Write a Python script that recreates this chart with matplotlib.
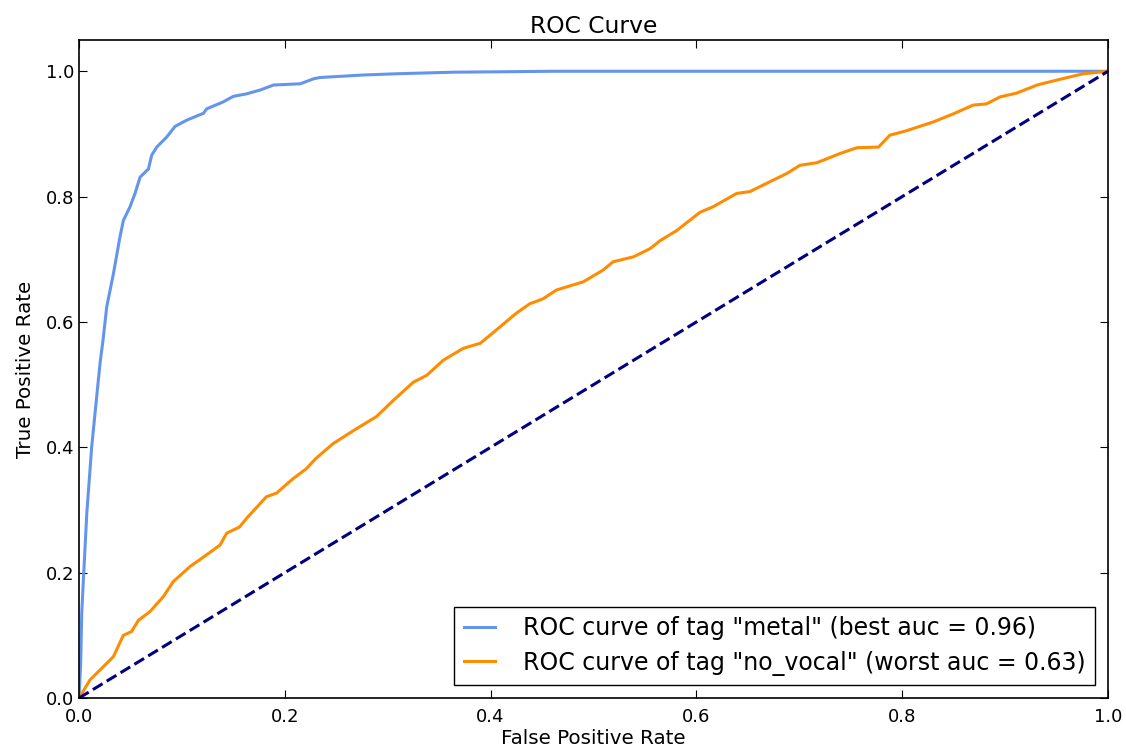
import matplotlib
matplotlib.use('Agg')
import matplotlib.pyplot as plt

# ROC points for tag "metal"
metal_fpr = [0.0, 0.0016, 0.0026, 0.0042, 0.0075, 0.0123, 0.0155, 0.0204, 0.0233,
             0.0269, 0.0334, 0.0398, 0.0431, 0.0496, 0.0544, 0.0593, 0.0674, 0.0706,
             0.0755, 0.0852, 0.0933, 0.1047, 0.121, 0.124, 0.140, 0.150, 0.163,
             0.176, 0.189, 0.215, 0.228, 0.234, 0.276, 0.309, 0.364, 0.464, 1.0]
metal_tpr = [0.0, 0.056, 0.135, 0.188, 0.294, 0.401, 0.454, 0.534, 0.571,
             0.624, 0.677, 0.736, 0.762, 0.784, 0.805, 0.831, 0.844, 0.866,
             0.879, 0.895, 0.912, 0.922, 0.933, 0.940, 0.951, 0.960, 0.964,
             0.970, 0.978, 0.980, 0.988, 0.990, 0.994, 0.996, 0.9985, 1.0, 1.0]

# ROC points for tag "no_vocal"
novocal_fpr = [0.0, 0.0107, 0.0236, 0.0334, 0.043, 0.051, 0.0577, 0.069, 0.082,
               0.0917, 0.108, 0.121, 0.137, 0.1435, 0.156, 0.163, 0.182, 0.192,
               0.208, 0.221, 0.230, 0.247, 0.267, 0.289, 0.3055, 0.325, 0.338,
               0.354, 0.3735, 0.390, 0.409, 0.425, 0.438, 0.451, 0.464, 0.490,
               0.5095, 0.519, 0.539, 0.555, 0.565, 0.581, 0.6035, 0.6165, 0.639,
               0.652, 0.668, 0.688, 0.7007, 0.717, 0.740, 0.756, 0.777, 0.788,
               0.804, 0.830, 0.8497, 0.869, 0.882, 0.895, 0.911, 0.931, 0.953,
               0.976, 1.0]
novocal_tpr = [0.0, 0.029, 0.050, 0.066, 0.100, 0.106, 0.124, 0.138, 0.162,
               0.186, 0.210, 0.225, 0.244, 0.263, 0.273, 0.287, 0.321, 0.327,
               0.350, 0.366, 0.382, 0.406, 0.427, 0.449, 0.475, 0.504, 0.515,
               0.539, 0.558, 0.566, 0.592, 0.614, 0.629, 0.637, 0.651, 0.664,
               0.683, 0.696, 0.704, 0.717, 0.730, 0.746, 0.775, 0.784, 0.805,
               0.808, 0.821, 0.837, 0.850, 0.854, 0.869, 0.878, 0.879, 0.898,
               0.905, 0.919, 0.932, 0.946, 0.948, 0.959, 0.965, 0.978, 0.987,
               0.996, 1.0]

metal_auc = 0.96
novocal_auc = 0.63

fig = plt.figure(figsize=(11.26, 7.53), dpi=100)
ax = fig.add_axes([0.0702, 0.073, 0.9138, 0.874])

ax.plot(metal_fpr, metal_tpr, color='cornflowerblue', lw=2.2,
        label='ROC curve of tag "metal" (best auc = %0.2f)' % metal_auc)
ax.plot(novocal_fpr, novocal_tpr, color='darkorange', lw=2.2,
        label='ROC curve of tag "no_vocal" (worst auc = %0.2f)' % novocal_auc)
ax.plot([0, 1], [0, 1], color='navy', lw=2.2, linestyle='--')

ax.set_xlim(0.0, 1.0)
ax.set_ylim(0.0, 1.05)
ax.set_xticks([0.0, 0.2, 0.4, 0.6, 0.8, 1.0])
ax.set_yticks([0.0, 0.2, 0.4, 0.6, 0.8, 1.0])
ax.tick_params(direction='in', top=True, right=True, length=6, labelsize=13)
ax.tick_params(axis='x', pad=7)
ax.set_xlabel('False Positive Rate', fontsize=14.3, labelpad=2)
ax.set_ylabel('True Positive Rate', fontsize=14.3, labelpad=8)
ax.set_title('ROC Curve', fontsize=16.8, pad=5)
for s in ax.spines.values():
    s.set_linewidth(1.2)

leg = ax.legend(loc='lower right', fontsize=17, fancybox=False, framealpha=1,
                handlelength=1.3, handletextpad=1.2, borderaxespad=0.55,
                labelspacing=0.45, borderpad=0.4)
leg.get_frame().set_edgecolor('black')

fig.savefig('out.png', dpi=100)
